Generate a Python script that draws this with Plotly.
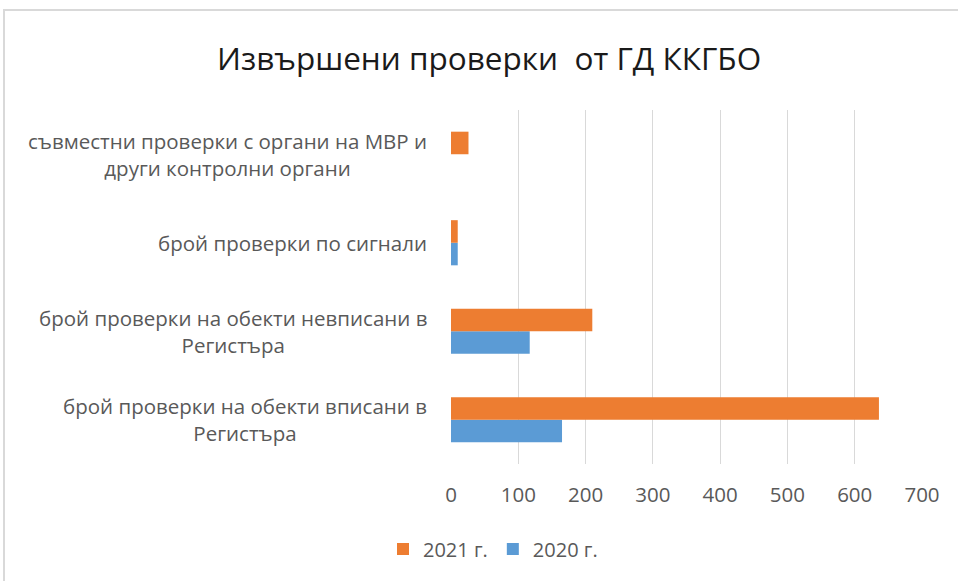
import plotly.graph_objects as go

categories = [
    "брой проверки на обекти вписани в<br>Регистъра",
    "брой проверки на обекти невписани в<br>Регистъра",
    "брой проверки по сигнали",
    "съвместни проверки с органи на МВР и<br>други контролни органи",
]
values_2020 = [165, 117, 10, 0]
values_2021 = [636, 210, 10, 26]
x_ticks = [0, 100, 200, 300, 400, 500, 600, 700]

FONT = "Open Sans"
W, H = 958, 581
L, R, T, B = 451, 36, 110, 117
pw, ph = W - L - R, H - T - B

def px_to_paper_x(px):
    return (px - L) / pw

def px_to_paper_y(py):
    return (H - B - py) / ph

fig = go.Figure()
fig.add_trace(go.Bar(y=categories, x=values_2020, name="2020 г.", orientation="h",
                     marker=dict(color="#5b9bd5", line=dict(width=0))))
fig.add_trace(go.Bar(y=categories, x=values_2021, name="2021 г.", orientation="h",
                     marker=dict(color="#ed7d31", line=dict(width=0))))

annotations = []
for c in categories:
    annotations.append(dict(x=px_to_paper_x(429), xref="paper", y=c, yref="y",
                            text=c, showarrow=False, xanchor="right", align="center",
                            font=dict(family=FONT, size=20.5, color="#595959")))
annotations.append(dict(x=px_to_paper_x(489), xref="paper", y=px_to_paper_y(57), yref="paper",
                        text="Извършени проверки  от ГД ККГБО", showarrow=False,
                        xanchor="center", yanchor="middle",
                        font=dict(family=FONT, size=31.5, color="#1a1a1a")))

fig.update_layout(
    width=W, height=H,
    margin=dict(l=L, r=R, t=T, b=B),
    paper_bgcolor="white", plot_bgcolor="white",
    barmode="group", bargap=0.49, bargroupgap=0,
    showlegend=True,
    legend=dict(orientation="h", x=px_to_paper_x(493), xanchor="center",
                y=px_to_paper_y(549), yanchor="middle", traceorder="reversed",
                font=dict(family=FONT, size=20, color="#595959"),
                itemwidth=30),
    xaxis=dict(range=[0, 700], tickvals=x_ticks, showgrid=True, gridcolor="#d9d9d9",
               gridwidth=1, zeroline=False, showline=False, ticks="",
               tickfont=dict(family=FONT, size=20.5, color="#595959"), ticklabelstandoff=16),
    yaxis=dict(showticklabels=False, showgrid=False, zeroline=False, showline=False, ticks=""),
    annotations=annotations,
    shapes=[dict(type="rect", xref="paper", yref="paper",
                 x0=px_to_paper_x(4), x1=px_to_paper_x(1000),
                 y0=px_to_paper_y(700), y1=px_to_paper_y(10),
                 line=dict(color="#d9d9d9", width=2), fillcolor="rgba(0,0,0,0)", layer="below")],
)

fig.write_html("out.html")
